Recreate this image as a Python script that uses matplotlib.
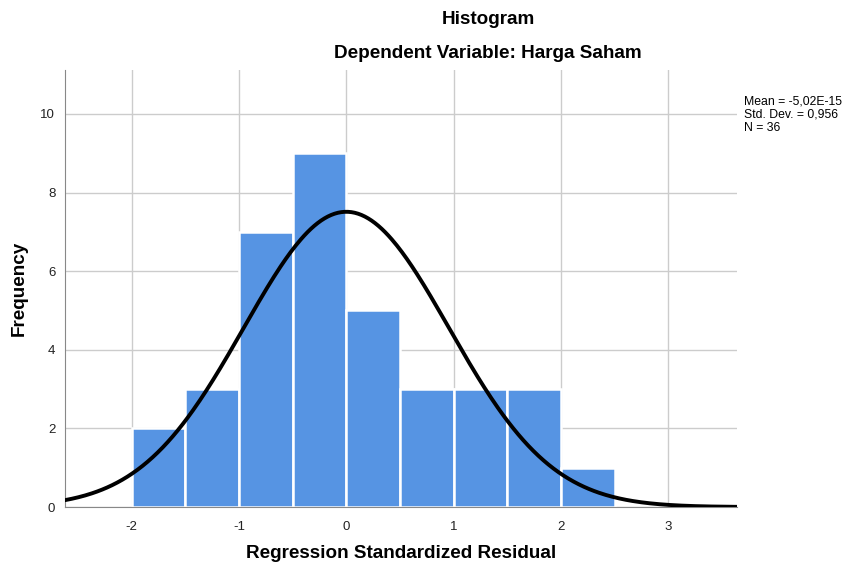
import matplotlib.pyplot as plt
import numpy as np

plt.rcParams['font.family'] = ['Liberation Sans', 'DejaVu Sans']
plt.rcParams['axes.unicode_minus'] = False

# histogram bins (left edges) and counts
bin_left = [-2.0, -1.5, -1.0, -0.5, 0.0, 0.5, 1.0, 1.5, 2.0]
counts = [2, 3, 7, 9, 5, 3, 3, 3, 1]
bin_width = 0.5

mean = -5.02e-15
std = 0.956
n = 36

fig = plt.figure(figsize=(8.53, 5.64), dpi=100)
ax = fig.add_axes([0.0762, 0.101, 0.788, 0.775])

ax.bar(bin_left, counts, width=bin_width, align='edge', color='#5694e3',
       edgecolor='white', linewidth=1.8, zorder=2)

# fitted normal curve from mean, std dev and N
xs = np.linspace(-2.62, 3.64, 400)
ys = n * bin_width / (std * np.sqrt(2 * np.pi)) * np.exp(-0.5 * ((xs - mean) / std) ** 2)
ax.plot(xs, ys, color='black', lw=2.8, zorder=3)

ax.set_xlim(-2.62, 3.64)
ax.set_ylim(0, 11.12)
ax.set_xticks([-2, -1, 0, 1, 2, 3])
ax.set_yticks([0, 2, 4, 6, 8, 10])
ax.grid(True, color='#cccccc', lw=1, zorder=0)
ax.set_axisbelow(True)
ax.tick_params(length=0, labelsize=9.5, pad=10, colors='#222222')
ax.tick_params(axis='y', pad=7)
for s in ['top', 'right']:
    ax.spines[s].set_visible(False)
for s in ['left', 'bottom']:
    ax.spines[s].set_color('#888888')

fig.text(488 / 853, 1 - 19 / 564, 'Histogram', ha='center', va='center',
         fontsize=13.6, fontweight='bold')
fig.text(488 / 853, 1 - 54 / 564, 'Dependent Variable: Harga Saham',
         ha='center', va='center', fontsize=13.6, fontweight='bold')
fig.text(401 / 853, 1 - 553 / 564, 'Regression Standardized Residual',
         ha='center', va='center', fontsize=13.6, fontweight='bold')
fig.text(19 / 853, 1 - 288 / 564, 'Frequency', ha='center', va='center',
         rotation=90, fontsize=13.6, fontweight='bold')
fig.text(744 / 853, 1 - 95 / 564,
         'Mean = -5,02E-15\nStd. Dev. = 0,956\nN = 36',
         ha='left', va='top', fontsize=8.8, linespacing=1.15)

fig.savefig('out.png', dpi=100)
